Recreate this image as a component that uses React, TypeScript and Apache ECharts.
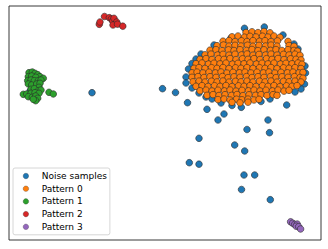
import React, { useEffect, useRef } from "react";
import * as echarts from "echarts";

// Coordinates are read in the picture's own units (x to the right, y downward).
const seriesNames = ["Noise samples", "Pattern 0", "Pattern 1", "Pattern 2", "Pattern 3"];
const seriesColors = ["#1f77b4", "#ff7f0e", "#2ca02c", "#d62728", "#9467bd"];

const noisePoints: number[][] = [
  [92, 92.7], [30.3, 90.7], [162.5, 88.7], [175.5, 92.5], [187.5, 102.7], [207, 109.3],
  [224, 114], [218, 120], [268, 120], [269.5, 132.7], [247, 129.5], [199, 138.3],
  [234.7, 145], [244.7, 151], [189.3, 162.7], [199, 164.2], [244, 175], [254.7, 175],
  [241.5, 189.5], [270.3, 199.7], [286.7, 105], [241.3, 107.3],
  [186, 77], [186, 83], [188.5, 69], [192, 63.5], [196, 59], [201, 54], [214, 45],
  [244.5, 28.3], [264.3, 27], [283, 35], [305, 66], [305.5, 73], [304.5, 84],
  [301, 89], [295, 92], [232, 105.5], [221, 103], [261, 101.5], [270, 99], [199, 93],
  [192, 88], [212, 99], [206, 97], [231, 38], [294, 44], [298, 49],
];

const pattern0Points: number[][] = [
  [246, 32.5], [252, 31.8], [258, 32.6], [264, 31.5], [270, 32.8],
  [232, 36.8], [238, 36.0], [244.5, 37.2], [250, 36.3], [256, 37.0], [262.5, 36.2], [268, 37.1], [274, 36.0], [280, 37.3],
  [223, 41.2], [229, 40.5], [235, 41.6], [241.5, 40.8], [247, 41.5], [253, 40.6], [259.5, 41.3], [265, 40.7], [271, 41.6], [277.5, 40.9], [288, 41.4],
  [217, 45.7], [223.5, 45.0], [229, 46.1], [235, 45.3], [241, 46.0], [247.5, 45.2], [253, 46.2], [259, 45.4], [265.5, 46.0], [271, 45.1], [277, 46.1], [289, 45.5], [294, 46.3],
  [210, 50.2], [216, 49.6], [222, 50.6], [228.5, 49.8], [234, 50.5], [240, 49.7], [246.5, 50.4], [252, 49.5], [258, 50.6], [264, 49.8], [270.5, 50.3], [276, 49.6], [282, 50.5], [288, 49.7], [294, 50.4], [297.5, 51.2],
  [205, 54.8], [211, 54.1], [217.5, 55.0], [223, 54.3], [229, 55.1], [235, 54.2], [241.5, 54.9], [247, 54.0], [253, 55.2], [259, 54.4], [265.5, 55.0], [271, 54.1], [277, 55.1], [283.5, 54.3], [289, 55.0], [295, 54.2], [300, 55.3],
  [200, 59.3], [206, 58.6], [212, 59.5], [218.5, 58.7], [224, 59.4], [230, 58.5], [236, 59.6], [242.5, 58.8], [248, 59.3], [254, 58.6], [260, 59.5], [266.5, 58.7], [272, 59.4], [278, 58.5], [284, 59.6], [290.5, 58.8], [296, 59.3], [301, 59.9],
  [196, 63.7], [202, 63.0], [208.5, 64.0], [214, 63.2], [220, 63.9], [226, 63.1], [232.5, 64.1], [238, 63.3], [244, 63.8], [250, 63.0], [256.5, 64.0], [262, 63.2], [268, 63.9], [274, 63.1], [280.5, 64.0], [286, 63.3], [292, 63.8], [298, 63.0], [302, 64.2],
  [194, 68.3], [199, 67.6], [205, 68.5], [211.5, 67.7], [217, 68.4], [223, 67.5], [229, 68.6], [235.5, 67.8], [241, 68.3], [247, 67.6], [253, 68.5], [259.5, 67.7], [265, 68.4], [271, 67.5], [277, 68.6], [283.5, 67.8], [289, 68.3], [295, 67.6], [301, 68.5],
  [192, 72.8], [197, 72.1], [203, 73.0], [209, 72.2], [215.5, 72.9], [221, 72.0], [227, 73.1], [233, 72.3], [239.5, 72.8], [245, 72.1], [251, 73.0], [257, 72.2], [263.5, 72.9], [269, 72.0], [275, 73.1], [281, 72.3], [287.5, 72.8], [293, 72.1], [299, 73.0], [303, 72.4],
  [192, 77.3], [198, 76.6], [204, 77.5], [210, 76.7], [216, 77.4], [222.5, 76.5], [228, 77.6], [234, 76.8], [240, 77.3], [246.5, 76.6], [252, 77.5], [258, 76.7], [264, 77.4], [270.5, 76.5], [276, 77.6], [282, 76.8], [288, 77.3], [294.5, 76.6], [300, 77.5], [303, 78.2],
  [193, 81.8], [199, 81.1], [205, 82.0], [211.5, 81.2], [217, 81.9], [223, 81.0], [229, 82.1], [235.5, 81.3], [241, 81.8], [247, 81.1], [253, 82.0], [259.5, 81.2], [265, 81.9], [271, 81.0], [277, 82.1], [283.5, 81.3], [289, 81.8], [295, 81.1], [301, 82.0],
  [196, 86.3], [202, 85.6], [208, 86.5], [214.5, 85.7], [220, 86.4], [226, 85.5], [232, 86.6], [238.5, 85.8], [244, 86.3], [250, 85.6], [256, 86.5], [262.5, 85.7], [268, 86.4], [274, 85.5], [280, 86.6], [286.5, 85.8], [292, 86.3], [297, 85.6],
  [200, 90.8], [206, 90.1], [212, 91.0], [218, 90.2], [224.5, 90.9], [230, 90.0], [236, 91.1], [242, 90.3], [248.5, 90.8], [254, 90.1], [260, 91.0], [266, 90.2], [272.5, 90.9], [278, 90.0], [284, 91.1], [289, 90.3],
  [207, 95.3], [213, 94.6], [219, 95.5], [225, 94.7], [231.5, 95.4], [237, 94.5], [243, 95.6], [249, 94.8], [255.5, 95.3], [261, 94.6], [267, 95.5], [273, 94.7], [277, 95.4],
  [218, 99.6], [224, 99.0], [230, 100.0], [236.5, 99.2], [242, 99.8], [248, 99.1], [254, 100.0], [259, 99.3],
  [232, 102.3], [240, 102.8], [248, 102.2],
];

const pattern1Points: number[][] = [
  [29, 72.7], [32.3, 72], [35, 73.3], [37.7, 74.7], [40, 76.7], [43.3, 78.3],
  [28.3, 76.7], [31.7, 76], [35.7, 77.3], [27.7, 80.7], [31, 80], [34.3, 80.7],
  [38.3, 80.7], [41, 80], [28.3, 84], [31.7, 85], [36.7, 84], [40, 83.3], [39, 87.3],
  [31, 89.3], [34.3, 88.7], [38.3, 90.7], [41, 90], [23.3, 94.3], [26.7, 94],
  [31, 93.3], [35, 92.7], [39, 93.3], [28.3, 96.7], [32.3, 97.3], [35.7, 96],
  [37.7, 98.3], [35.7, 100.7], [33.3, 99.3], [49, 92.3], [53.3, 94],
];

const pattern2Points: number[][] = [
  [99.3, 24.3], [100, 22], [104.5, 16.5], [109.3, 17.7], [111.3, 19], [112.7, 21],
  [114, 18.3], [116.7, 22], [113, 25], [117.5, 24.2], [122.8, 26.2],
];

const pattern3Points: number[][] = [
  [290.6, 221.8], [292.6, 223.2], [294.7, 224.4], [297.2, 224.1], [296.2, 226.2],
  [298.7, 226.7], [300.6, 229],
];

const seriesData = [noisePoints, pattern0Points, pattern1Points, pattern2Points, pattern3Points];

export default function App() {
  const ref = useRef<HTMLDivElement>(null);
  useEffect(() => {
    if (!ref.current) return;
    const chart = echarts.init(ref.current, null, { renderer: "svg" });
    chart.setOption({
      animation: false,
      backgroundColor: "#ffffff",
      grid: {
        show: true,
        left: 9,
        top: 6,
        right: 7,
        bottom: 9,
        borderColor: "#222222",
        borderWidth: 0.9,
        backgroundColor: "transparent",
      },
      xAxis: {
        type: "value",
        min: 9,
        max: 321,
        axisLine: { show: false },
        axisTick: { show: false },
        axisLabel: { show: false },
        splitLine: { show: false },
      },
      yAxis: {
        type: "value",
        min: 6,
        max: 240,
        inverse: true,
        axisLine: { show: false },
        axisTick: { show: false },
        axisLabel: { show: false },
        splitLine: { show: false },
      },
      legend: {
        show: true,
        orient: "vertical",
        left: 13,
        top: 168,
        icon: "circle",
        itemWidth: 5.5,
        itemHeight: 5.5,
        itemGap: 1.7,
        padding: [2.5, 3, 2.5, 10],
        backgroundColor: "rgba(255,255,255,0.85)",
        borderColor: "#cccccc",
        borderWidth: 0.8,
        borderRadius: 2,
        selectedMode: false,
        itemStyle: { borderWidth: 0.3 },
        textStyle: {
          fontFamily: "DejaVu Sans",
          fontSize: 9,
          lineHeight: 11,
          color: "#000000",
          padding: [0, 0, 0, 8],
        },
        data: seriesNames,
      },
      series: seriesNames.map((name, i) => ({
        name,
        type: "scatter",
        data: seriesData[i],
        symbol: "circle",
        symbolSize: 6.6,
        itemStyle: {
          color: seriesColors[i],
          borderColor: "#2a2a2a",
          borderWidth: 0.6,
          opacity: 1,
        },
        emphasis: { disabled: true },
      })),
    });
    return () => chart.dispose();
  }, []);
  return (
    <div
      ref={ref}
      style={{ position: "fixed", left: 0, top: 0, width: 328, height: 249 }}
    />
  );
}
